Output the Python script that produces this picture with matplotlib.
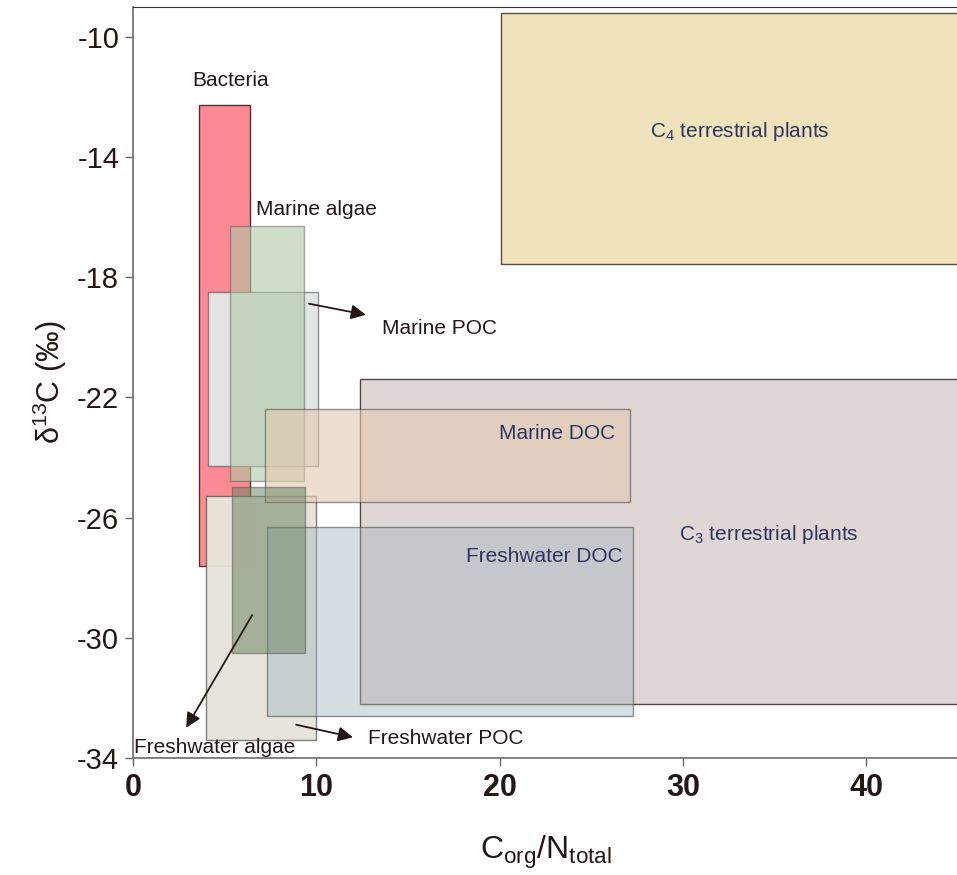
import matplotlib
matplotlib.use('Agg')
import matplotlib.pyplot as plt
from matplotlib.patches import Rectangle

# source boxes: C/N range and d13C range
names = ['C4 terrestrial plants', 'C3 terrestrial plants', 'Bacteria', 'Marine POC',
         'Marine algae', 'Freshwater POC box', 'Freshwater DOC', 'Marine DOC',
         'Freshwater algae box']
cn_lo = [20.1, 12.4, 3.6, 4.1, 5.3, 4.0, 7.3, 7.2, 5.4]
cn_hi = [50.0, 50.0, 6.4, 10.1, 9.3, 10.0, 27.3, 27.1, 9.4]
d13_lo = [-17.55, -32.2, -27.6, -24.3, -24.8, -33.4, -32.6, -25.5, -30.5]
d13_hi = [-9.2, -21.4, -12.25, -18.5, -16.3, -25.3, -26.3, -22.4, -25.0]

face = [(0.94, 0.886, 0.733, 1.0),
        (0.878, 0.839, 0.839, 1.0),
        (0.99, 0.54, 0.58, 1.0),
        (0.894, 0.902, 0.902, 0.98),
        (0.686, 0.78, 0.643, 0.59),
        (0.905, 0.898, 0.855, 0.97),
        (0.635, 0.714, 0.75, 0.45),
        (0.89, 0.79, 0.686, 0.6),
        (0.44, 0.52, 0.40, 0.55)]
edge = [(0.35, 0.31, 0.25, 1.0),
        (0.33, 0.27, 0.27, 1.0),
        (0.3, 0.2, 0.2, 1.0),
        (0.3, 0.3, 0.3, 0.6),
        (0.3, 0.3, 0.3, 0.45),
        (0.3, 0.3, 0.3, 0.7),
        (0.3, 0.3, 0.3, 0.6),
        (0.3, 0.3, 0.3, 0.6),
        (0.3, 0.3, 0.3, 0.5)]

xticks = [0, 10, 20, 30, 40]
yticks = [-10, -14, -18, -22, -26, -30, -34]

plt.rcParams['font.family'] = ['Liberation Sans', 'DejaVu Sans']
plt.rcParams['mathtext.default'] = 'regular'

fig = plt.figure(figsize=(9.57, 8.75), dpi=100)
ax = fig.add_axes([0.139, 0.134, 0.862, 0.858])

for i in range(len(names)):
    ax.add_patch(Rectangle((cn_lo[i], d13_lo[i]), cn_hi[i] - cn_lo[i], d13_hi[i] - d13_lo[i],
                           facecolor=face[i], edgecolor=edge[i], lw=1.0, zorder=2 + i))

ax.set_xlim(0, 45)
ax.set_ylim(-34, -9)
ax.set_xticks(xticks)
ax.set_yticks(yticks)
ax.set_yticklabels([str(t) for t in yticks], fontsize=21, color='#231815')
ax.set_xticklabels([str(t) for t in xticks], fontsize=22, fontweight='bold', color='#231815')
ax.tick_params(axis='both', direction='out', length=6, width=1, color='#666666')
ax.tick_params(axis='y', pad=4)
ax.tick_params(axis='x', pad=5)
for s in ['left', 'bottom']:
    ax.spines[s].set_color('#777777')
    ax.spines[s].set_linewidth(1.3)
ax.spines['top'].set_color('#333333')
ax.spines['right'].set_visible(False)

ax.set_ylabel('δ$^{13}$C (‰)', fontsize=22, color='#231815', labelpad=6)
ax.set_xlabel('C$_{org}$/N$_{total}$', fontsize=23, color='#231815', labelpad=22)

tc = '#231815'
nv = '#2e3560'
fs = 15
ax.text(5.3, -11.45, 'Bacteria', fontsize=fs, ha='center', va='center', color=tc, zorder=20)
ax.text(10.0, -15.75, 'Marine algae', fontsize=fs, ha='center', va='center', color=tc, zorder=20)
ax.text(13.6, -19.7, 'Marine POC', fontsize=fs, ha='left', va='center', color=tc, zorder=20)
ax.text(26.3, -23.2, 'Marine DOC', fontsize=fs, ha='right', va='center', color=nv, zorder=20)
ax.text(26.7, -27.3, 'Freshwater DOC', fontsize=fs, ha='right', va='center', color=nv, zorder=20)
ax.text(34.7, -26.55, 'C$_3$ terrestrial plants', fontsize=fs, ha='center', va='center', color=nv, zorder=20)
ax.text(33.1, -13.15, 'C$_4$ terrestrial plants', fontsize=fs, ha='center', va='center', color=nv, zorder=20)
ax.text(0.05, -33.65, 'Freshwater algae', fontsize=fs, ha='left', va='center', color=tc, zorder=20)
ax.text(12.8, -33.35, 'Freshwater POC', fontsize=fs, ha='left', va='center', color=tc, zorder=20)

arrow = dict(arrowstyle='-|>', color='#231815', lw=1.3, mutation_scale=22, shrinkA=0, shrinkB=0)
ax.annotate('', xy=(12.7, -19.25), xytext=(9.6, -18.88), arrowprops=arrow, zorder=21)
ax.annotate('', xy=(2.9, -33.0), xytext=(6.5, -29.25), arrowprops=arrow, zorder=21)
ax.annotate('', xy=(12.0, -33.32), xytext=(8.9, -32.9), arrowprops=arrow, zorder=21)

fig.savefig('out.png', dpi=100)
